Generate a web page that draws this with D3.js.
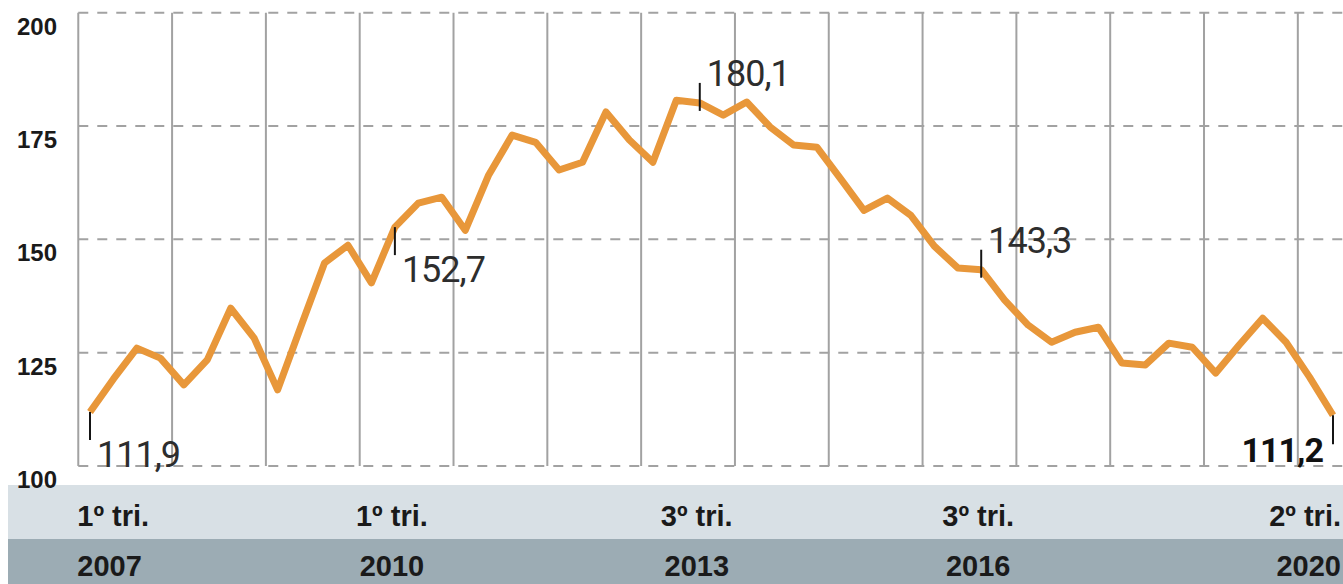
<!DOCTYPE html>
<html>
<head>
<meta charset="utf-8">
<script src="https://cdn.jsdelivr.net/npm/d3@7"></script>
<style>
  html, body { margin: 0; padding: 0; background: #ffffff; }
  svg { display: block; }
</style>
</head>
<body>
<div id="chart"></div>
<script>
// Quarterly index, 1st quarter 2007 to 2nd quarter 2020
const quarters = [
  "1T2007","2T2007","3T2007","4T2007",
  "1T2008","2T2008","3T2008","4T2008",
  "1T2009","2T2009","3T2009","4T2009",
  "1T2010","2T2010","3T2010","4T2010",
  "1T2011","2T2011","3T2011","4T2011",
  "1T2012","2T2012","3T2012","4T2012",
  "1T2013","2T2013","3T2013","4T2013",
  "1T2014","2T2014","3T2014","4T2014",
  "1T2015","2T2015","3T2015","4T2015",
  "1T2016","2T2016","3T2016","4T2016",
  "1T2017","2T2017","3T2017","4T2017",
  "1T2018","2T2018","3T2018","4T2018",
  "1T2019","2T2019","3T2019","4T2019",
  "1T2020","2T2020"
];

const values = [
  111.9, 119.2, 126.0, 123.8,
  117.9, 123.4, 134.8, 128.2,
  116.8, 130.9, 144.8, 148.7,
  140.4, 152.7, 158.0, 159.3,
  152.0, 164.2, 173.0, 171.4,
  165.3, 167.0, 178.1, 171.9,
  167.0, 180.7, 180.1, 177.4,
  180.3, 174.8, 170.8, 170.3,
  163.4, 156.4, 159.1, 155.3,
  148.5, 143.7, 143.3, 136.6,
  131.1, 127.3, 129.5, 130.6,
  122.7, 122.3, 127.1, 126.2,
  120.5, 126.7, 132.6, 127.3,
  119.6, 111.2
];

// Highlighted quarters and their value labels
const noteQuarters = ["1T2007", "2T2010", "3T2013", "3T2016", "2T2020"];
const noteTexts    = ["111,9", "152,7", "180,1", "143,3", "111,2"];

// Period band labels under the chart
const periodLabels = ["1º tri.", "1º tri.", "3º tri.", "3º tri.", "2º tri."];
const yearLabels   = ["2007", "2010", "2013", "2016", "2020"];

const yTicks = [100, 125, 150, 175, 200];

// ---------------------------------------------------------------
const W = 1343, H = 584;
const FONT = "Roboto, 'Noto Sans', 'Liberation Sans', sans-serif";
const BOLD_FONT = "'Liberation Sans', Arial, Roboto, sans-serif";

const svg = d3.select("#chart").append("svg")
  .attr("width", W).attr("height", H)
  .attr("viewBox", `0 0 ${W} ${H}`);

const x = d3.scaleLinear().domain([0, quarters.length - 1]).range([90, 1333]);
const y = d3.scaleLinear().domain([100, 200]).range([466, 12.7]);

const gridColor = "#a2a2a2";
const plotLeft = x(-0.5);

// Bands behind the period labels
svg.append("rect").attr("x", 8).attr("y", 485).attr("width", W - 8).attr("height", 54)
  .attr("fill", "#d8e0e5");
svg.append("rect").attr("x", 8).attr("y", 539).attr("width", W - 8).attr("height", H - 539)
  .attr("fill", "#9cacb4");

// Year boundaries: vertical solid lines
const yearStarts = quarters.map((q, i) => q.startsWith("1T") ? i : null).filter(i => i !== null);
svg.append("g").selectAll("line").data(yearStarts).join("line")
  .attr("x1", d => x(d - 0.5)).attr("x2", d => x(d - 0.5))
  .attr("y1", y(200)).attr("y2", y(100))
  .attr("stroke", gridColor).attr("stroke-width", 2);

// Horizontal dashed grid
svg.append("g").selectAll("line").data(yTicks).join("line")
  .attr("x1", plotLeft).attr("x2", W)
  .attr("y1", d => y(d)).attr("y2", d => y(d))
  .attr("stroke", gridColor).attr("stroke-width", 2)
  .attr("stroke-dasharray", "10,9");

// Y axis labels
svg.append("g").selectAll("text").data(yTicks).join("text")
  .attr("x", 57).attr("y", d => y(d) + 22)
  .attr("text-anchor", "end")
  .attr("font-family", BOLD_FONT).attr("font-weight", 700).attr("font-size", 24)
  .attr("fill", "#1a1a1a")
  .text(d => d);

// Series line
const line = d3.line().x((d, i) => x(i)).y(d => y(d));
svg.append("path").datum(values)
  .attr("d", line)
  .attr("fill", "none")
  .attr("stroke", "#e8973a")
  .attr("stroke-width", 7)
  .attr("stroke-linejoin", "round")
  .attr("stroke-linecap", "butt");

// Value notes with small ticks
const notes = noteQuarters.map((q, k) => {
  const i = quarters.indexOf(q);
  return { i, px: x(i), py: y(values[i]), text: noteTexts[k], k };
});
const last = notes.length - 1;
const placeAbove = n => n.k === 2 || n.k === 3;

const gNotes = svg.append("g");
notes.forEach(n => {
  let t1, t2, tx, ty, anchor = "start", bold = false;
  if (n.k === last) {
    t1 = n.py; t2 = n.py + 29; tx = n.px - 10; ty = n.py + 47; anchor = "end"; bold = true;
  } else if (placeAbove(n)) {
    t1 = n.py + 8; t2 = n.py - 20; tx = n.px + 7; ty = n.py - 17;
  } else {
    t1 = n.py; t2 = n.py + 28; tx = n.px + 7; ty = n.py + 55;
  }
  gNotes.append("line")
    .attr("x1", n.px).attr("x2", n.px).attr("y1", t1).attr("y2", t2)
    .attr("stroke", "#151515").attr("stroke-width", 2);
  gNotes.append("text")
    .attr("x", tx).attr("y", ty)
    .attr("text-anchor", anchor)
    .attr("font-family", FONT)
    .attr("font-weight", bold ? 700 : 400)
    .attr("font-size", bold ? 34 : 36)
    .attr("letter-spacing", -1)
    .attr("fill", bold ? "#111111" : "#2d2d2d")
    .text(n.text);
});

// Period labels in the bands
const gBand = svg.append("g")
  .attr("font-family", BOLD_FONT).attr("font-weight", 700).attr("font-size", 29)
  .attr("fill", "#1a1a1a");
notes.forEach((n, k) => {
  let bx, anchor;
  if (k === 0) { bx = plotLeft - 1; anchor = "start"; }
  else if (k === last) { bx = W - 2; anchor = "end"; }
  else { bx = n.px - 3; anchor = "middle"; }
  gBand.append("text").attr("x", bx).attr("y", 526).attr("text-anchor", anchor)
    .text(periodLabels[k]);
  gBand.append("text").attr("x", bx).attr("y", 576).attr("text-anchor", anchor)
    .text(yearLabels[k]);
});
</script>
</body>
</html>
